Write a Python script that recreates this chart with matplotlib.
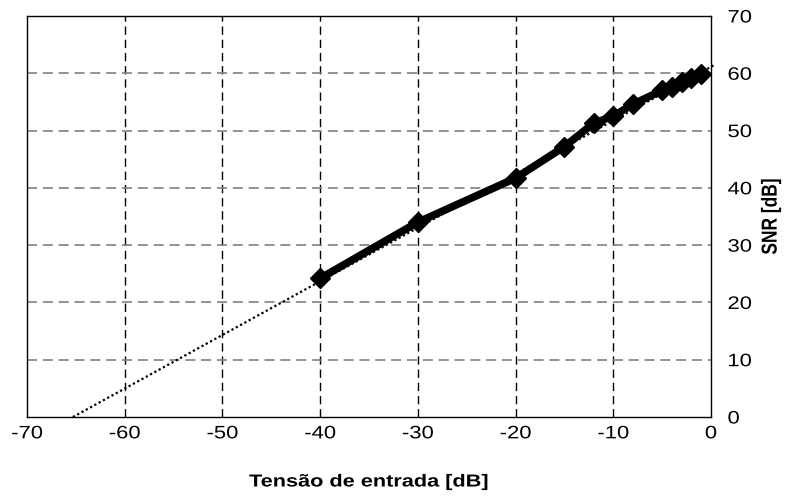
import matplotlib
matplotlib.use("Agg")
import matplotlib.pyplot as plt
from matplotlib.patheffects import AbstractPathEffect
from matplotlib.transforms import Affine2D

plt.rcParams['font.family'] = ['Liberation Sans', 'DejaVu Sans']
plt.rcParams['axes.unicode_minus'] = False

# Measured data
x_vals = [-40, -30, -20, -15, -12, -10, -8, -5, -4, -3, -2, -1]
snr_vals = [24.2, 34.0, 41.7, 47.2, 51.3, 52.5, 54.6, 57.0, 57.6, 58.5, 59.2, 59.8]

# Theoretical (dotted) line
ideal_x = [-65.3, 0.4]
ideal_y = [0.0, 61.5]

x_ticks = [-70, -60, -50, -40, -30, -20, -10, 0]
y_ticks = [0, 10, 20, 30, 40, 50, 60, 70]


class HStretch(AbstractPathEffect):
    """Horizontally widen rendered text (the reference glyphs are wide)."""
    def __init__(self, sx, anchor='center'):
        super().__init__()
        self.sx = sx
        self.anchor = anchor

    def draw_path(self, renderer, gc, tpath, affine, rgbFace=None):
        ext = tpath.get_extents(affine)
        x0 = ext.x0 if self.anchor == 'left' else 0.5 * (ext.x0 + ext.x1)
        t = affine + Affine2D().translate(-x0, 0).scale(self.sx, 1).translate(x0, 0)
        renderer.draw_path(gc, tpath, t, rgbFace)


SX = 1.22
FS = 13

fig = plt.figure(figsize=(7.88, 5.0), dpi=100)
ax = fig.add_axes([27/788, 1-417/500, (711-27)/788, (417-16)/500])

# grid
for xv in x_ticks[1:-1]:
    ax.axvline(xv, color='black', lw=1.0, ls=(0, (6, 3.5)), zorder=1)
for yv in y_ticks[1:-1]:
    ax.axhline(yv, color='#808080', lw=1.2, ls=(0, (6, 3.5)), zorder=1)

ax.plot(ideal_x, ideal_y, color='black', lw=1.6, ls=(0, (1, 1.2)), zorder=2, clip_on=False)
ax.plot(x_vals, snr_vals, color='black', lw=5.5, marker='D', markersize=10,
        markerfacecolor='black', markeredgecolor='black', zorder=3, clip_on=False)

ax.set_xlim(-70, 0)
ax.set_ylim(0, 70)
ax.set_xticks(x_ticks)
ax.set_yticks(y_ticks)
ax.yaxis.tick_right()
ax.yaxis.set_label_position('right')
ax.tick_params(axis='both', length=0, labelsize=FS)
ax.tick_params(axis='x', pad=6)
ax.tick_params(axis='y', pad=12)

for s in ax.spines.values():
    s.set_color('black')
    s.set_linewidth(1.0)

ax.set_xlabel('Tensão de entrada [dB]', fontsize=12.5, fontweight='bold')
ax.set_ylabel('SNR [dB]', fontsize=12.5, fontweight='bold')
ax.xaxis.set_label_coords(0.5, (417 - 482) / 401)
ax.xaxis.label.set_va('center')
ax.yaxis.set_label_coords((771 - 27) / 684, 0.5)
ax.yaxis.label.set_va('center')

for lbl in ax.get_xticklabels():
    lbl.set_path_effects([HStretch(SX, 'center')])
for lbl in ax.get_yticklabels():
    lbl.set_path_effects([HStretch(SX, 'left')])
ax.xaxis.label.set_path_effects([HStretch(1.25, 'center')])
ax.yaxis.label.set_path_effects([HStretch(1.25, 'center')])

fig.savefig('out.png', dpi=100)
